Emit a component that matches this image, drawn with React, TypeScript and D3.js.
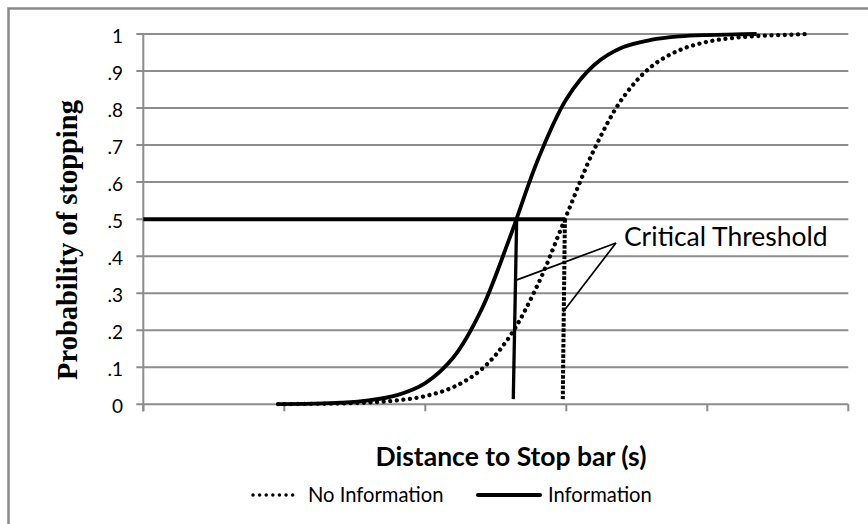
import React from "react";
import * as d3 from "d3";

const X_TICKS = [0, 1, 2, 3, 4, 5];
const Y_TICKS = [0, 0.1, 0.2, 0.3, 0.4, 0.5, 0.6, 0.7, 0.8, 0.9, 1];
const Y_LABELS = ["0", ".1", ".2", ".3", ".4", ".5", ".6", ".7", ".8", ".9", "1"];

const INFO_X = [0.955, 1.2, 1.4, 1.6, 1.8, 2.0, 2.2, 2.4, 2.6, 2.8, 3.0, 3.2, 3.4, 3.6, 3.8, 4.0, 4.2, 4.35];
const INFO_Y = [0.0006, 0.0019, 0.0045, 0.0107, 0.0249, 0.0573, 0.127, 0.257, 0.451, 0.662, 0.824, 0.917, 0.964, 0.984, 0.9934, 0.9972, 0.9988, 1.0];

const NOINFO_X = [0.955, 1.2, 1.4, 1.6, 1.8, 2.0, 2.2, 2.4, 2.6, 2.8, 3.0, 3.2, 3.4, 3.6, 3.8, 4.0, 4.2, 4.4, 4.6, 4.7];
const NOINFO_Y = [0.0004, 0.0011, 0.0023, 0.0049, 0.0105, 0.0223, 0.0466, 0.0947, 0.184, 0.325, 0.509, 0.69, 0.827, 0.911, 0.956, 0.979, 0.99, 0.9954, 0.998, 1.0];

// threshold guides [x, y]
const THRESHOLD_H: [number, number][] = [[0, 0.5], [2.99, 0.5]];
const THRESHOLD_INFO: [number, number][] = [[2.648, 0.5], [2.624, 0.014]];
const THRESHOLD_NOINFO: [number, number][] = [[2.99, 0.5], [2.975, 0.014]];
const CALLOUT_ANCHOR: [number, number] = [3.352, 0.4356];
const CALLOUT_TARGETS: [number, number][] = [[2.65, 0.336], [2.977, 0.249]];
const CALLOUT_TEXT = "Critical Threshold";

const X_TITLE = "Distance to Stop bar (s)";
const Y_TITLE = "Probability of stopping";
const LEGEND = ["No Information", "Information"];

const W = 868;
const H = 524;
const GRID = "#8c8c8c";
const SANS = "Lato, 'Open Sans', sans-serif";

export default function App() {
  const x = d3.scaleLinear().domain([0, 5]).range([143.3, 848.3]);
  const y = d3.scaleLinear().domain([0, 1]).range([404.3, 34]);

  const line = d3
    .line<[number, number]>()
    .x((d) => x(d[0]))
    .y((d) => y(d[1]))
    .curve(d3.curveCatmullRom.alpha(0.5));
  const straight = d3
    .line<[number, number]>()
    .x((d) => x(d[0]))
    .y((d) => y(d[1]));

  const info: [number, number][] = INFO_X.map((v, i) => [v, INFO_Y[i]]);
  const noinfo: [number, number][] = NOINFO_X.map((v, i) => [v, NOINFO_Y[i]]);

  return (
    <svg
      width={W}
      height={H}
      style={{ position: "absolute", left: 0, top: 0, background: "#fff" }}
    >
      <rect x={0} y={0} width={W} height={H} fill="#fff" />
      <rect x={8.5} y={8.5} width={W + 20} height={H + 20} fill="none" stroke="#8a8a8a" strokeWidth={2.5} />

      {/* gridlines */}
      {Y_TICKS.map((t, i) => (
        <line
          key={"g" + i}
          x1={x(0) - 7}
          x2={x(5)}
          y1={y(t)}
          y2={y(t)}
          stroke={GRID}
          strokeWidth={2}
        />
      ))}
      {/* y axis */}
      <line x1={x(0)} x2={x(0)} y1={y(1)} y2={y(0) + 7} stroke={GRID} strokeWidth={2} />
      {/* x ticks */}
      {X_TICKS.map((t, i) => (
        <line key={"xt" + i} x1={x(t)} x2={x(t)} y1={y(0)} y2={y(0) + 7} stroke={GRID} strokeWidth={2} />
      ))}
      {/* y labels */}
      {Y_TICKS.map((t, i) => (
        <text
          key={"yl" + i}
          x={123}
          y={y(t) + 1}
          textAnchor="end"
          dominantBaseline="central"
          fontFamily={SANS}
          fontSize={19}
          fill="#000"
        >
          {Y_LABELS[i]}
        </text>
      ))}

      {/* threshold lines */}
      <path d={straight(THRESHOLD_H) || ""} stroke="#000" strokeWidth={4} fill="none" />
      <path d={straight(THRESHOLD_INFO) || ""} stroke="#000" strokeWidth={3.3} fill="none" />
      <path
        d={straight(THRESHOLD_NOINFO) || ""}
        stroke="#000"
        strokeWidth={4}
        strokeDasharray="3.6 1.6"
        fill="none"
      />

      {/* curves */}
      <path
        d={line(noinfo) || ""}
        stroke="#000"
        strokeWidth={4.3}
        strokeDasharray="0.01 6.6"
        strokeLinecap="round"
        fill="none"
      />
      <path d={line(info) || ""} stroke="#000" strokeWidth={3.8} fill="none" />

      {/* callout */}
      {CALLOUT_TARGETS.map((p, i) => (
        <line
          key={"c" + i}
          x1={x(CALLOUT_ANCHOR[0])}
          y1={y(CALLOUT_ANCHOR[1])}
          x2={x(p[0])}
          y2={y(p[1])}
          stroke="#000"
          strokeWidth={1.7}
        />
      ))}
      <text x={624} y={246} fontFamily={SANS} fontSize={26.5} fill="#000">
        {CALLOUT_TEXT}
      </text>

      {/* axis titles */}
      <text
        x={511}
        y={466}
        textAnchor="middle"
        fontFamily={SANS}
        fontWeight="bold"
        fontSize={26.5}
        fill="#000"
      >
        {X_TITLE}
      </text>
      <text
        transform="translate(77,240) rotate(-90)"
        textAnchor="middle"
        fontFamily="'Liberation Serif', 'Times New Roman', serif"
        fontWeight="bold"
        fontSize={28.5}
        fill="#000"
      >
        {Y_TITLE}
      </text>

      {/* legend */}
      <line
        x1={253}
        x2={299}
        y1={495}
        y2={495}
        stroke="#000"
        strokeWidth={3.5}
        strokeDasharray="0.01 6.6"
        strokeLinecap="round"
      />
      <text x={308} y={502} fontFamily={SANS} fontSize={20.2} fill="#000">
        {LEGEND[0]}
      </text>
      <line x1={478} x2={540} y1={495} y2={495} stroke="#000" strokeWidth={4} strokeLinecap="round" />
      <text x={548} y={502} fontFamily={SANS} fontSize={20.2} fill="#000">
        {LEGEND[1]}
      </text>
    </svg>
  );
}
